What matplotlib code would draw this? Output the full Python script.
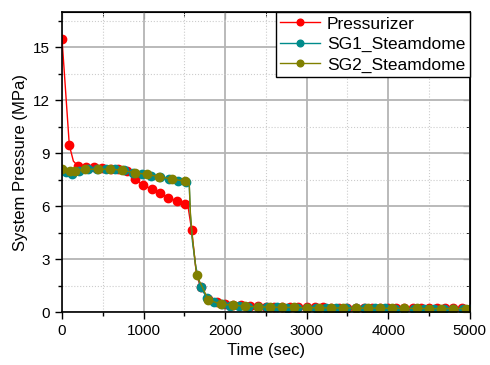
import numpy as np
import matplotlib
matplotlib.use("Agg")
import matplotlib.pyplot as plt
from matplotlib.ticker import MultipleLocator

plt.rcParams['font.family'] = ['Liberation Sans', 'DejaVu Sans']

# Pressurizer (time s, pressure MPa)
t_prz = [0, 90, 140, 192, 295, 393, 495, 597, 691, 793, 896, 998, 1100, 1202, 1305,
         1407, 1509, 1545, 1591, 1650, 1702, 1796, 1898, 2000, 2100, 2200, 2300, 2400,
         2500, 2600, 2700, 2800, 2900, 3000, 3100, 3200, 3300, 3400, 3500, 3600, 3700,
         3800, 3900, 4000, 4100, 4200, 4300, 4400, 4500, 4600, 4700, 4800, 4900, 5000]
p_prz = [15.5, 9.45, 8.55, 8.3, 8.23, 8.2, 8.17, 8.13, 8.1, 8.0, 7.54, 7.2, 6.97, 6.73, 6.49,
         6.3, 6.13, 6.0, 4.63, 2.1, 1.4, 0.73, 0.58, 0.48, 0.42, 0.38, 0.35, 0.33,
         0.31, 0.3, 0.29, 0.28, 0.27, 0.27, 0.26, 0.26, 0.25, 0.25, 0.25, 0.24, 0.24,
         0.24, 0.23, 0.23, 0.23, 0.23, 0.22, 0.22, 0.22, 0.22, 0.21, 0.21, 0.21, 0.2]
m_prz = [i for i in range(len(t_prz)) if t_prz[i] not in (140, 1545, 1650)]

# SG1 steam dome
t_sg1 = [0, 50, 120, 210, 320, 430, 540, 650, 760, 870, 980, 1090, 1200, 1310, 1420,
         1520, 1560, 1575, 1600, 1640, 1700, 1780, 1870, 1960, 2060, 2170, 2280, 2400,
         2520, 2640, 2760, 2880, 3000, 3120, 3240, 3360, 3480, 3600, 3720, 3840, 3960,
         4080, 4200, 4320, 4440, 4560, 4680, 4800, 4920, 5000]
p_sg1 = [8.05, 7.95, 7.85, 8.0, 8.1, 8.1, 8.1, 8.08, 8.03, 7.9, 7.8, 7.72, 7.63, 7.52, 7.45,
         7.38, 7.32, 5.5, 4.0, 2.6, 1.4, 0.8, 0.55, 0.43, 0.37, 0.33, 0.3, 0.28,
         0.27, 0.26, 0.25, 0.24, 0.24, 0.23, 0.23, 0.22, 0.22, 0.22, 0.21, 0.21, 0.21,
         0.2, 0.2, 0.2, 0.2, 0.2, 0.19, 0.19, 0.19, 0.19]
m_sg1 = [i for i in range(len(t_sg1)) if t_sg1[i] not in (1560, 1575, 1600, 1640)]

# SG2 steam dome
t_sg2 = [0, 100, 160, 282, 445, 589, 733, 896, 1040, 1194, 1346, 1509, 1560, 1575, 1600,
         1652, 1796, 1947, 2101, 2245, 2400, 2550, 2700, 2850, 3000, 3150, 3300, 3450,
         3600, 3750, 3900, 4050, 4200, 4350, 4500, 4650, 4800, 4950]
p_sg2 = [8.1, 8.0, 8.0, 8.08, 8.1, 8.1, 8.04, 7.89, 7.8, 7.67, 7.54, 7.42, 7.35, 5.6, 4.2,
         2.08, 0.69, 0.45, 0.39, 0.33, 0.3, 0.28, 0.27, 0.26, 0.25, 0.24, 0.24, 0.23,
         0.23, 0.22, 0.22, 0.21, 0.21, 0.21, 0.2, 0.2, 0.2, 0.2]
m_sg2 = [i for i in range(len(t_sg2)) if t_sg2[i] not in (1560, 1575, 1600)]

fig = plt.figure(figsize=(4.9, 3.65), dpi=100)
ax = fig.add_axes([0.1265, 0.145, 0.832, 0.822])

ax.plot(t_prz, p_prz, color='#ff0000', lw=1.0, marker='o', ms=6, markevery=m_prz,
        label='Pressurizer')
ax.plot(t_sg1, p_sg1, color='#008b8b', lw=1.0, marker='o', ms=6, markevery=m_sg1,
        label='SG1_Steamdome')
ax.plot(t_sg2, p_sg2, color='#808000', lw=1.0, marker='o', ms=6, markevery=m_sg2,
        label='SG2_Steamdome')

ax.set_xlim(0, 5000)
ax.set_ylim(0, 17)
ax.xaxis.set_major_locator(MultipleLocator(1000))
ax.xaxis.set_minor_locator(MultipleLocator(500))
ax.yaxis.set_major_locator(MultipleLocator(3))
ax.yaxis.set_minor_locator(MultipleLocator(1.5))

ax.grid(which='major', color='#b4b4b4', lw=1.3, ls='-')
ax.grid(which='minor', color='#cccccc', lw=0.8, ls=':')
ax.set_axisbelow(True)

ax.tick_params(which='major', direction='out', length=5, width=1, labelsize=11)
ax.tick_params(which='minor', direction='out', length=3, width=1)
for s in ax.spines.values():
    s.set_linewidth(1.2)

# inward ticks on top and right, without labels
top = ax.secondary_xaxis('top')
top.xaxis.set_major_locator(MultipleLocator(1000))
top.xaxis.set_minor_locator(MultipleLocator(500))
top.tick_params(which='major', direction='in', length=5, labeltop=False)
top.tick_params(which='minor', direction='in', length=3)
right = ax.secondary_yaxis('right')
right.yaxis.set_major_locator(MultipleLocator(3))
right.yaxis.set_minor_locator(MultipleLocator(1.5))
right.tick_params(which='major', direction='in', length=5, labelright=False)
right.tick_params(which='minor', direction='in', length=3)

ax.set_xlabel('Time (sec)', fontsize=12)
ax.set_ylabel('System Pressure (MPa)', fontsize=12)

leg = ax.legend(loc='upper right', fontsize=12.5, frameon=True, fancybox=False,
                framealpha=1, edgecolor='black', borderaxespad=0.0, handlelength=2.3,
                borderpad=0.25, labelspacing=0.3, handletextpad=0.4, markerscale=0.8)
leg.get_frame().set_linewidth(1.0)

fig.savefig('out.png', dpi=100)
